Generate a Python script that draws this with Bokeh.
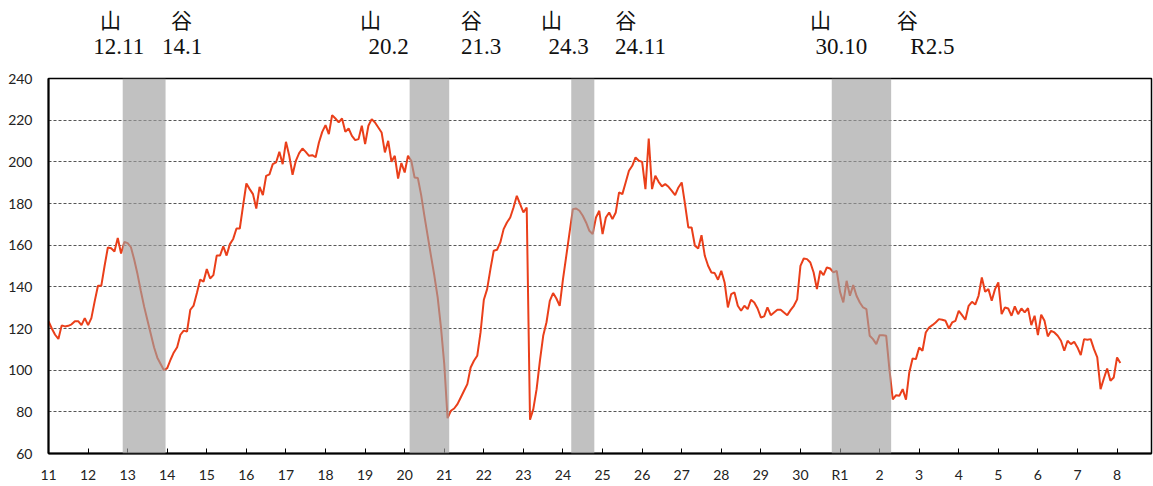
import numpy as np
from bokeh.plotting import figure
from bokeh.layouts import column
from bokeh.models import Range1d, FixedTicker, BoxAnnotation
from bokeh.core.properties import value
from bokeh.embed import file_html
from bokeh.resources import INLINE

# ---- data: monthly index values, Jan H11 (1999) onward ----
v1999 = [123.5, 120, 117, 115, 121.5, 121, 121.3, 122, 123.5, 123.5, 121.6, 125]
v2000 = [121.6, 125, 133, 140.5, 140.5, 150, 158.9, 158.5, 157, 163.5, 156, 161.5]
v2001 = [161, 159, 153, 146, 138, 130.5, 124, 117.5, 111, 106, 103, 100]
v2002 = [101, 105, 108.5, 111, 117, 119, 118.5, 129, 131, 137, 143.5, 142.5]
v2003 = [148.5, 144, 145.6, 155, 155, 159.5, 155, 160.5, 163, 168, 168, 179]
v2004 = [189.6, 186.9, 184.5, 177.6, 188, 184, 193.3, 194, 198.9, 199.7, 204.8, 198.9]
v2005 = [209.6, 202.9, 193.8, 200.5, 204.2, 206.4, 204.8, 202.9, 203.2, 202.2, 209.3, 214.4]
v2006 = [217.6, 213.3, 222.4, 220.8, 218.9, 220.8, 214.4, 216, 212.5, 210.4, 210.9, 217.3]
v2007 = [208.5, 217.3, 220.5, 218.9, 216.5, 214.1, 204.5, 210.1, 200, 202.9, 192, 199.4]
v2008 = [194.9, 202.9, 200.5, 192.5, 192.2, 184, 173.8, 164.2, 154.6, 145.3, 134.9, 120.5]
v2009 = [102.9, 77, 80.5, 81.6, 83.7, 86.9, 90.1, 93.3, 101.3, 104.5, 106.9, 118.1]
v2010 = [133.8, 138.9, 148.5, 157.3, 157.8, 161.3, 167.7, 170.9, 173.3, 178.1, 183.7, 179.7]
v2011 = [175.7, 178.1, 76.2, 81.3, 90.9, 104.5, 116.5, 123, 133.3, 137, 134.4, 130.9]
v2012 = [143.7, 154.9, 166.1, 177.3, 177.6, 176.5, 174.1, 170.9, 166.9, 165.3, 173.3, 176.5]
v2013 = [165.3, 173.3, 175.7, 172.5, 175.7, 185.3, 184.5, 190.1, 195.7, 198.1, 202.1, 200.5]
v2014 = [200, 186.9, 211.2, 186.9, 193.3, 190.4, 188.2, 189.3, 188, 186.1, 184, 187.7]
v2015 = [190.1, 179.7, 168.5, 168.5, 159.7, 158.4, 164.8, 154.9, 150.1, 146.9, 146.6, 143.4]
v2016 = [147.7, 142.1, 130.1, 136.5, 137.3, 130.9, 128.5, 130.9, 129.3, 133.8, 132.5, 129.6]
v2017 = [125.3, 125.8, 130.1, 126.4, 127.7, 129, 129, 127.7, 126.4, 128.8, 130.9, 134]
v2018 = [150.1, 153.6, 153.3, 151.7, 146.9, 138.9, 147.7, 145.6, 149.3, 148.8, 146.9, 147.7]
v2019 = [137.6, 132.5, 142.9, 135.7, 140.8, 135.7, 132.5, 130.1, 129.3, 116.5, 114.9, 112.5]
v2020 = [116.8, 116.8, 116.5, 100, 86, 88, 87.7, 90.9, 85.8, 98.9, 105.6, 105.3]
v2021 = [110.9, 109.3, 118.1, 120.5, 121.6, 122.9, 124.5, 124.2, 123.7, 120, 122.9, 123.7]
v2022 = [128.5, 126.4, 124.2, 130.9, 132.8, 131.5, 135.7, 144.5, 137.6, 138.9, 133.3, 138.9]
v2023 = [142.1, 126.9, 130.1, 129.6, 126.1, 130.6, 126.9, 129.6, 127.7, 129.8, 121.6, 126.1]
v2024 = [116.8, 126.6, 123.7, 116.2, 118.9, 118.1, 116.5, 114.1, 109.3, 114.1, 112.5, 113.6]
v2025 = [110.9, 107.2, 114.9, 114.6, 114.9, 110.1, 106.1, 90.9, 96, 100.8, 94.9, 96.5]
v2026 = [106.1, 103.4]

values = (v1999 + v2000 + v2001 + v2002 + v2003 + v2004 + v2005 + v2006 + v2007 +
          v2008 + v2009 + v2010 + v2011 + v2012 + v2013 + v2014 + v2015 + v2016 +
          v2017 + v2018 + v2019 + v2020 + v2021 + v2022 + v2023 + v2024 + v2025 + v2026)
months = list(range(len(values)))

year_labels = ["11", "12", "13", "14", "15", "16", "17", "18", "19", "20", "21",
               "22", "23", "24", "25", "26", "27", "28", "29", "30", "R1",
               "2", "3", "4", "5", "6", "7", "8"]
y_ticks = [60, 80, 100, 120, 140, 160, 180, 200, 220, 240]

# turning points (months since Jan H11)
peak_labels = ["12.11", "20.2", "24.3", "30.10"]
trough_labels = ["14.1", "21.3", "24.11", "R2.5"]
peak_months = [22, 109, 158, 237]
trough_months = [36, 122, 166, 256]

# ---- header text layout (x in months, y in header pixels from bottom) ----
peak_kanji_x = [18.8, 97.6, 152.5, 234.1]
peak_date_x = [21.3, 103.1, 157.7, 240.4]
trough_kanji_x = [40.3, 128.2, 175.0, 260.4]
trough_date_x = [40.5, 131.2, 179.5, 268.0]
HEADER_H = 68
KANJI_Y = HEADER_H - 18.3
DATE_Y = HEADER_H - 45.8

W = 1153
LEFT = 48
RIGHT = 2
x_range = Range1d(0, (W - LEFT - RIGHT) / 3.298)

# header figure with the 山 / 谷 annotations
hdr = figure(width=W, height=HEADER_H, x_range=x_range, y_range=Range1d(0, HEADER_H),
             output_backend="svg", toolbar_location=None,
             min_border_left=LEFT, min_border_right=RIGHT, min_border_top=0, min_border_bottom=0,
             background_fill_color="white", border_fill_color="white")
hdr.axis.visible = False
hdr.grid.visible = False
hdr.outline_line_color = None
n = len(peak_labels)
hdr.text(x=peak_kanji_x + trough_kanji_x, y=[KANJI_Y] * (2 * n), text=["山"] * n + ["谷"] * n,
         text_align="center", text_baseline="middle", text_font=value("Noto Sans CJK JP"),
         text_font_size="21px", text_color="#111111")
hdr.text(x=peak_date_x + trough_date_x, y=[DATE_Y] * (2 * n), text=peak_labels + trough_labels,
         text_align="center", text_baseline="middle", text_font=value("Liberation Serif"),
         text_font_size="23px", text_color="#111111")

# main chart
p = figure(width=W, height=486 - HEADER_H, x_range=x_range, y_range=Range1d(60, 240),
           output_backend="svg", toolbar_location=None,
           min_border_left=LEFT, min_border_right=RIGHT, min_border_top=10, min_border_bottom=33,
           background_fill_color="white", border_fill_color="white")

p.line(months, values, line_color="#EA3F1A", line_width=2)

for pk, tr in zip(peak_months, trough_months):
    p.add_layout(BoxAnnotation(left=pk + 0.5, right=tr - 0.5, fill_color="#A0A0A0",
                               fill_alpha=0.65, line_alpha=0))

p.xaxis.ticker = FixedTicker(ticks=[12 * i for i in range(len(year_labels))])
p.xaxis.major_label_overrides = {12 * i: lab for i, lab in enumerate(year_labels)}
p.yaxis.ticker = FixedTicker(ticks=y_ticks)
for ax in (p.xaxis[0], p.yaxis[0]):
    ax.axis_line_color = "black"
    ax.axis_line_width = 2
    ax.minor_tick_line_color = None
    ax.major_label_text_font = "Lato"
    ax.major_label_text_font_size = "14px"
    ax.major_label_text_color = "#222222"
p.xaxis.major_label_standoff = 12
p.yaxis.major_label_standoff = 10
p.xaxis.major_tick_in = 5
p.xaxis.major_tick_out = 0
p.xaxis.major_tick_line_color = "black"
p.yaxis.major_tick_line_color = None

p.xgrid.grid_line_color = None
p.ygrid.ticker = FixedTicker(ticks=y_ticks)
p.ygrid.grid_line_color = "#555555"
p.ygrid.grid_line_dash = "3 2"
p.ygrid.grid_line_width = 1

p.outline_line_color = "black"
p.outline_line_width = 1.5

layout = column(hdr, p, spacing=0)
open("out.html", "w").write(file_html(layout, INLINE))
